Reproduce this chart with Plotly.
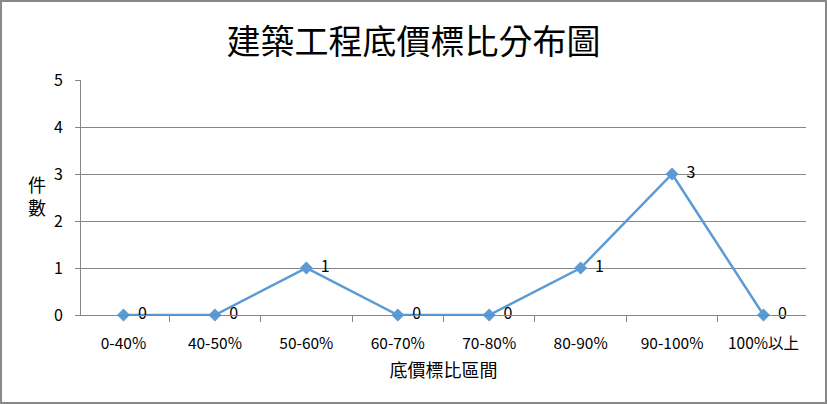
import plotly.graph_objects as go

categories = ["0-40%", "40-50%", "50-60%", "60-70%", "70-80%", "80-90%", "90-100%", "100%以上"]
counts = [0, 0, 1, 0, 0, 1, 3, 0]

font_family = "Noto Sans CJK TC, Noto Sans, sans-serif"
blue = "#5B9BD5"
grid = "#868686"

fig = go.Figure(go.Scatter(
    x=categories, y=counts,
    mode="lines+markers+text",
    line=dict(color=blue, width=2.5),
    marker=dict(symbol="diamond", size=10, color=blue),
    text=["\u00a0\u00a0" + str(v) for v in counts],
    textposition="middle right",
    textfont=dict(size=16, color="#000000"),
    cliponaxis=False,
))

fig.update_layout(
    width=827, height=404,
    margin=dict(l=81, r=21, t=80, b=89),
    paper_bgcolor="white", plot_bgcolor="white",
    font=dict(family=font_family, color="#000000"),
    showlegend=False,
    title=dict(text="建築工程底價標比分布圖", font=dict(size=34),
               x=0.5, xanchor="center", y=0.896, yanchor="middle"),
    xaxis=dict(
        type="category", tickson="boundaries", ticks="outside", ticklen=6,
        tickcolor=grid, showline=True, linecolor=grid, linewidth=1,
        showgrid=False, tickfont=dict(size=15.5), ticklabelstandoff=14,
        title=dict(text="底價標比區間", font=dict(size=18), standoff=12),
    ),
    yaxis=dict(
        range=[0, 5], dtick=1, ticks="outside", ticklen=5, tickcolor=grid,
        showline=True, linecolor=grid, linewidth=1,
        showgrid=True, gridcolor=grid, gridwidth=1, zeroline=False,
        tickfont=dict(size=16), ticklabelstandoff=9,
    ),
    annotations=[dict(text="件<br>數", xref="paper", yref="paper", x=-0.061, y=0.51,
                      xanchor="center", yanchor="middle", showarrow=False,
                      font=dict(size=18))],
    shapes=[dict(type="rect", xref="paper", yref="paper", x0=-0.1103, x1=1.0276,
                 y0=-0.3745, y1=1.336, line=dict(color="#888888", width=2))],
)

fig.write_html("out.html", config={"displayModeBar": False},
               post_script="document.body.style.margin='0';")
